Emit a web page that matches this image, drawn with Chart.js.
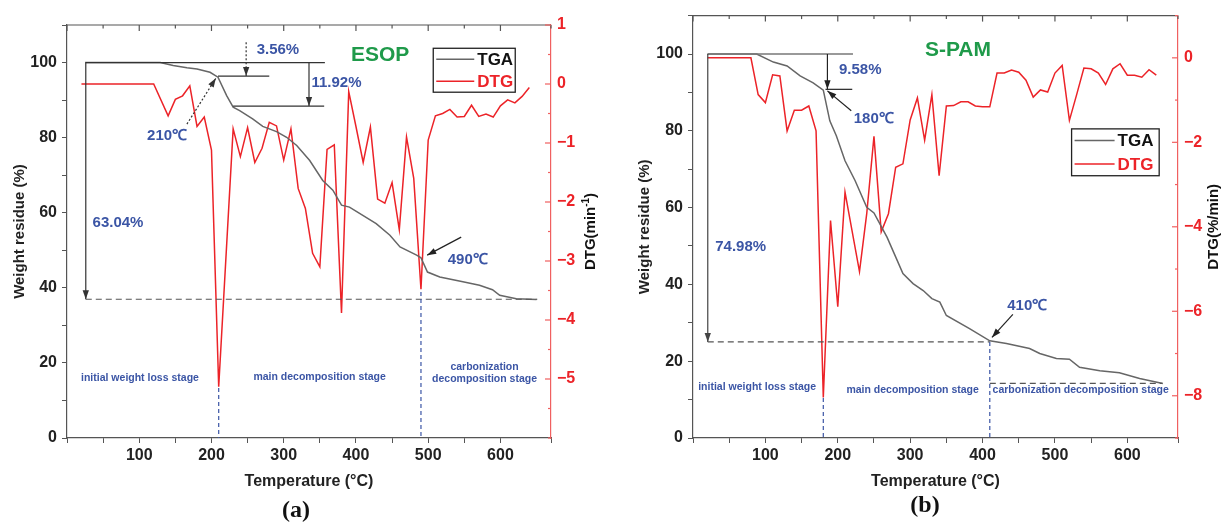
<!DOCTYPE html>
<html>
<head>
<meta charset="utf-8">
<script src="https://cdn.jsdelivr.net/npm/chart.js@4.4.1/dist/chart.umd.min.js"></script>
<style>
  html, body { margin: 0; padding: 0; background: #fff; }
  #wrap { position: relative; width: 1221px; height: 523px; }
  .panel { position: absolute; top: 0; }
  #pa { left: 0; }
  #pb { left: 610px; }
</style>
</head>
<body>
<div id="wrap">
  <div class="panel" id="pa"><canvas id="chartA" width="610" height="523"></canvas></div>
  <div class="panel" id="pb"><canvas id="chartB" width="611" height="523"></canvas></div>
</div>
<script>
// ESOP (panel a)
const esopTgaTemp = [25, 129, 147, 166, 180, 198, 209, 221, 230, 239, 257, 271, 290, 304, 318, 336, 354, 368, 380, 391, 405, 428, 447, 461, 484, 490, 499, 516, 548, 571, 589, 599, 622, 650];
const esopTgaWeight = [100, 100, 99.2, 98.6, 98.3, 97.4, 96.1, 91.2, 88.1, 87.2, 85.0, 83.0, 81.6, 80.1, 77.9, 73.9, 68.6, 66.0, 62.0, 61.5, 59.8, 57.1, 54.0, 50.9, 48.7, 48.0, 44.2, 42.9, 41.6, 40.7, 39.5, 38.0, 37.1, 36.9];
const esopDtgTemp = [20, 120, 140, 150, 160, 170, 180, 190, 200, 210, 230, 240, 250, 260, 270, 280, 290, 300, 310, 320, 330, 340, 350, 360, 370, 380, 390, 400, 410, 420, 430, 440, 450, 460, 470, 480, 490, 500, 510, 520, 530, 540, 550, 560, 570, 580, 590, 600, 610, 620, 630, 640];
const esopDtgRate = [0, 0, -0.54, -0.26, -0.20, -0.03, -0.72, -0.56, -1.12, -5.13, -0.76, -1.23, -0.74, -1.33, -1.09, -0.65, -0.71, -1.29, -0.76, -1.77, -2.11, -2.87, -3.10, -1.11, -1.03, -3.88, -0.13, -0.72, -1.33, -0.73, -1.95, -2.02, -1.67, -2.47, -0.90, -1.60, -3.48, -0.95, -0.54, -0.50, -0.43, -0.56, -0.55, -0.36, -0.55, -0.51, -0.56, -0.37, -0.27, -0.32, -0.21, -0.06];

// S-PAM (panel b)
const spamTgaTemp = [20, 88, 111, 130, 148, 166, 180, 189, 198, 210, 224, 240, 250, 268, 281, 290, 304, 318, 330, 341, 350, 382, 410, 433, 465, 479, 502, 520, 534, 562, 589, 617, 649];
const spamTgaWeight = [100, 100, 97.9, 96.9, 94.3, 92.5, 90.6, 82.6, 78.7, 72.2, 67.0, 60.1, 58.6, 52.3, 46.7, 42.8, 40.2, 38.4, 36.3, 35.4, 31.9, 28.5, 25.3, 24.6, 23.3, 22.0, 20.7, 20.5, 18.4, 17.5, 17.0, 15.5, 14.2];
const spamDtgTemp = [20, 80, 90, 100, 110, 120, 130, 140, 150, 160, 170, 180, 190, 200, 210, 230, 240, 250, 260, 270, 280, 290, 300, 310, 320, 330, 340, 350, 360, 370, 380, 390, 400, 410, 420, 430, 440, 450, 460, 470, 480, 490, 500, 510, 520, 530, 540, 550, 560, 570, 580, 590, 600, 610, 620, 630, 640];
const spamDtgRate = [0, 0, -0.87, -1.06, -0.40, -0.43, -1.73, -1.24, -1.24, -1.14, -1.73, -8.04, -3.85, -5.89, -3.18, -5.06, -3.69, -1.86, -4.12, -3.69, -2.59, -2.51, -1.47, -0.95, -1.95, -0.87, -2.79, -1.14, -1.13, -1.04, -1.04, -1.14, -1.16, -1.16, -0.36, -0.36, -0.29, -0.34, -0.53, -0.93, -0.76, -0.81, -0.36, -0.18, -1.48, -0.87, -0.24, -0.26, -0.36, -0.63, -0.26, -0.14, -0.41, -0.41, -0.46, -0.28, -0.41];

const seriesLabels = ['TGA', 'DTG'];

const RED = '#ec2328';
const GRAY = '#666666';
const BLUE = '#3b55a5';
const GREEN = '#1f9a4a';
const SANS = '"Liberation Sans", Arial, sans-serif';

Chart.defaults.font.family = SANS;

function toPoints(xs, ys) {
  return xs.map((x, i) => ({ x: x, y: ys[i] }));
}

function minus(v) {
  return v < 0 ? '\u2212' + Math.abs(v) : String(v);
}

function line(ctx, x1, y1, x2, y2) {
  ctx.beginPath();
  ctx.moveTo(x1, y1);
  ctx.lineTo(x2, y2);
  ctx.stroke();
}

function arrowHead(ctx, x1, y1, x2, y2, size) {
  const ang = Math.atan2(y2 - y1, x2 - x1);
  const c = Math.cos(ang), s = Math.sin(ang);
  ctx.setLineDash([]);
  ctx.beginPath();
  ctx.moveTo(x2, y2);
  ctx.lineTo(x2 - size * c + size * 0.35 * s, y2 - size * s - size * 0.35 * c);
  ctx.lineTo(x2 - size * c - size * 0.35 * s, y2 - size * s + size * 0.35 * c);
  ctx.closePath();
  ctx.fill();
}

// frame, inward ticks, annotations, legend and panel letter
const decor = {
  id: 'decor',
  afterDraw(chart, args, o) {
    const { ctx, chartArea: a, scales } = chart;
    const xs = scales.x, ys = scales.y, yr = scales.y1;
    const X = v => xs.getPixelForValue(v);
    const Y = v => ys.getPixelForValue(v);
    ctx.save();

    // top frame with ticks pointing down
    ctx.strokeStyle = '#555';
    ctx.lineWidth = 1.2;
    line(ctx, a.left, a.top, a.right, a.top);
    xs.ticks.forEach(t => {
      const px = X(t.value);
      const len = t.value % 100 === 0 ? 6 : 3.5;
      line(ctx, px, a.top, px, a.top + len);
    });

    // right axis ticks pointing inward
    ctx.strokeStyle = '#f06060';
    yr.ticks.forEach(t => {
      const py = yr.getPixelForValue(t.value);
      const len = t.label !== '' ? 6 : 3;
      line(ctx, a.right - len, py, a.right, py);
    });

    // right axis title, read bottom to top
    ctx.save();
    ctx.translate(o.rightTitleX, (a.top + a.bottom) / 2);
    ctx.rotate(-Math.PI / 2);
    ctx.fillStyle = '#111';
    ctx.textBaseline = 'middle';
    const mainFont = 'bold 15px ' + SANS;
    const supFont = 'bold 10px ' + SANS;
    ctx.font = mainFont;
    const w1 = ctx.measureText(o.rightTitle[0]).width;
    const w3 = ctx.measureText(o.rightTitle[2]).width;
    ctx.font = supFont;
    const w2 = o.rightTitle[1] ? ctx.measureText(o.rightTitle[1]).width : 0;
    let tx = -(w1 + w2 + w3) / 2;
    ctx.textAlign = 'left';
    ctx.font = mainFont;
    ctx.fillText(o.rightTitle[0], tx, 0);
    tx += w1;
    if (o.rightTitle[1]) {
      ctx.font = supFont;
      ctx.fillText(o.rightTitle[1], tx, -5);
      tx += w2;
    }
    ctx.font = mainFont;
    ctx.fillText(o.rightTitle[2], tx, 0);
    ctx.restore();

    // annotation lines and arrows
    o.lines.forEach(l => {
      const x1 = X(l.x1), y1 = Y(l.y1), x2 = X(l.x2), y2 = Y(l.y2);
      ctx.strokeStyle = l.color || '#333';
      ctx.fillStyle = l.color || '#333';
      ctx.lineWidth = l.width || 1.2;
      ctx.setLineDash(l.dash || []);
      line(ctx, x1, y1, x2, y2);
      if (l.arrow) arrowHead(ctx, x1, y1, x2, y2, 9);
    });
    ctx.setLineDash([]);

    // annotation texts
    ctx.textAlign = 'center';
    ctx.textBaseline = 'middle';
    o.texts.forEach(t => {
      ctx.font = 'bold ' + (t.size || 15) + 'px ' + SANS;
      ctx.fillStyle = t.color || BLUE;
      ctx.fillText(t.text, X(t.x), Y(t.y));
    });

    // legend box
    const lg = o.legend;
    const bl = X(lg.left), bt = Y(lg.top), br = X(lg.right), bb = Y(lg.bottom);
    ctx.strokeStyle = '#222';
    ctx.lineWidth = 1.3;
    ctx.strokeRect(bl, bt, br - bl, bb - bt);
    const rowH = (bb - bt) / chart.data.datasets.length;
    chart.data.datasets.forEach((ds, i) => {
      const cy = bt + rowH * (i + 0.5);
      ctx.strokeStyle = ds.borderColor;
      ctx.lineWidth = 1.5;
      line(ctx, bl + 3, cy, bl + 3 + lg.sample, cy);
      ctx.font = 'bold 17px ' + SANS;
      ctx.fillStyle = lg.textColors[i];
      ctx.textAlign = 'left';
      ctx.fillText(ds.label, bl + 6 + lg.sample, cy + 1);
    });

    // panel letter
    ctx.font = 'bold 24px "Liberation Serif", "Times New Roman", serif';
    ctx.fillStyle = '#111';
    ctx.textAlign = 'center';
    ctx.textBaseline = 'middle';
    ctx.fillText(o.letter[0], o.letter[1], o.letter[2]);

    ctx.restore();
  }
};

function makeChart(id, p) {
  return new Chart(document.getElementById(id), {
    type: 'line',
    data: {
      datasets: [
        { label: seriesLabels[0], data: toPoints(p.tgaT, p.tgaW), yAxisID: 'y',
          borderColor: GRAY, borderWidth: 1.5, pointRadius: 0, tension: 0 },
        { label: seriesLabels[1], data: toPoints(p.dtgT, p.dtgR), yAxisID: 'y1',
          borderColor: RED, borderWidth: 1.5, pointRadius: 0, tension: 0 }
      ]
    },
    options: {
      responsive: false,
      animation: false,
      layout: { padding: { top: p.top, bottom: 25, left: 0, right: 0 } },
      plugins: {
        legend: { display: false },
        tooltip: { enabled: false },
        decor: p.decor
      },
      scales: {
        x: {
          type: 'linear', min: 0, max: 670,
          ticks: {
            stepSize: 50, autoSkip: false, maxRotation: 0, padding: 3,
            color: '#222', font: { size: 16, weight: 'bold' },
            callback: v => (v > 0 && v % 100 === 0 ? v : '')
          },
          grid: { drawOnChartArea: false, tickLength: 5, color: '#555' },
          border: { color: '#555', width: 1.2 },
          title: { display: true, text: 'Temperature (\u00b0C)', color: '#222',
                   font: { size: 16, weight: 'bold' }, padding: { top: 0, bottom: 7 } },
          afterFit: s => { s.height = 60; }
        },
        y: {
          position: 'left', min: 0, max: 110,
          ticks: {
            stepSize: 10, autoSkip: false, padding: 5,
            color: '#222', font: { size: 16, weight: 'bold' },
            callback: v => (v % 20 === 0 && v <= 100 ? v : '')
          },
          grid: { drawOnChartArea: false, tickLength: 5, color: '#555' },
          border: { color: '#555', width: 1.2 },
          title: { display: true, text: 'Weight residue (%)', color: '#222',
                   font: { size: 15, weight: 'bold' }, padding: { top: p.leftTitlePad, bottom: 0 } },
          afterFit: s => { s.width = p.leftWidth; }
        },
        y1: {
          position: 'right', min: p.rMin, max: p.rMax,
          ticks: {
            stepSize: p.rStep, autoSkip: false, padding: 6,
            color: RED, font: { size: 16, weight: 'bold' },
            callback: v => (Number.isInteger(v) && v % p.rLabelEvery === 0 && v > p.rMin ? minus(v) : (v === p.rMax && p.rLabelTop ? minus(v) : ''))
          },
          grid: { drawOnChartArea: false, drawTicks: false },
          border: { color: '#f06060', width: 1.2 },
          afterFit: s => { s.width = p.rightWidth; }
        }
      }
    },
    plugins: [decor]
  });
}

makeChart('chartA', {
  tgaT: esopTgaTemp, tgaW: esopTgaWeight, dtgT: esopDtgTemp, dtgR: esopDtgRate,
  top: 25, leftWidth: 67, rightWidth: 59, leftTitlePad: 11,
  rMin: -6, rMax: 1, rStep: 0.5, rLabelEvery: 1, rLabelTop: true,
  decor: {
    rightTitleX: 591,
    rightTitle: ['DTG(min', '-1', ')'],
    letter: ['(a)', 296, 511],
    legend: { left: 507, top: 103.8, right: 620.5, bottom: 92.1, sample: 38, textColors: ['#111', RED] },
    lines: [
      { x1: 26, y1: 100, x2: 357, y2: 100, color: '#333' },
      { x1: 26, y1: 100, x2: 26, y2: 36.96, color: '#333', arrow: true },
      { x1: 26, y1: 36.96, x2: 651, y2: 36.96, color: '#555', dash: [6, 4] },
      { x1: 335, y1: 100, x2: 335, y2: 88.4, color: '#333', arrow: true },
      { x1: 230, y1: 88.4, x2: 356, y2: 88.4, color: '#333' },
      { x1: 209, y1: 96.4, x2: 280, y2: 96.4, color: '#333' },
      { x1: 248, y1: 105.4, x2: 248, y2: 96.4, color: '#333', dash: [2, 2], arrow: true },
      { x1: 166, y1: 83.6, x2: 206, y2: 95.8, color: '#333', dash: [2, 2], arrow: true },
      { x1: 545.7, y1: 53.5, x2: 498.6, y2: 48.7, color: '#222', arrow: true },
      { x1: 210, y1: 13.3, x2: 210, y2: 0, color: BLUE, dash: [4, 3] },
      { x1: 490, y1: 38.9, x2: 490, y2: 0, color: BLUE, dash: [4, 3] }
    ],
    texts: [
      { text: '210\u2103', x: 138.5, y: 80.4 },
      { text: '3.56%', x: 292, y: 103.3 },
      { text: '11.92%', x: 373, y: 94.5 },
      { text: '63.04%', x: 70.6, y: 57.2 },
      { text: '490\u2103', x: 554.7, y: 47.4 },
      { text: 'ESOP', x: 433.5, y: 101.9, size: 21, color: GREEN },
      { text: 'initial weight loss stage', x: 101, y: 16.05, size: 10.5 },
      { text: 'main decomposition stage', x: 349.7, y: 16.1, size: 10.5 },
      { text: 'carbonization', x: 578, y: 19.0, size: 10.5 },
      { text: 'decomposition stage', x: 578, y: 15.7, size: 10.5 }
    ]
  }
});

makeChart('chartB', {
  tgaT: spamTgaTemp, tgaW: spamTgaWeight, dtgT: spamDtgTemp, dtgR: spamDtgRate,
  top: 14, leftWidth: 83, rightWidth: 43, leftTitlePad: 26,
  rMin: -9, rMax: 1, rStep: 1, rLabelEvery: 2, rLabelTop: false,
  decor: {
    rightTitleX: 604,
    rightTitle: ['DTG(%/min', '', ')'],
    letter: ['(b)', 315, 506],
    legend: { left: 523, top: 80.5, right: 644, bottom: 68.3, sample: 40, textColors: ['#111', RED] },
    lines: [
      { x1: 20.4, y1: 100, x2: 221, y2: 100, color: '#777', width: 1.5 },
      { x1: 20.4, y1: 100, x2: 20.4, y2: 25.02, color: '#444', arrow: true },
      { x1: 20.4, y1: 25.02, x2: 410, y2: 25.02, color: '#555', dash: [6, 4] },
      { x1: 185.7, y1: 100, x2: 185.7, y2: 90.8, color: '#222', arrow: true },
      { x1: 183, y1: 90.8, x2: 220, y2: 90.8, color: '#222' },
      { x1: 218.6, y1: 85.2, x2: 185.7, y2: 90.4, color: '#222', arrow: true },
      { x1: 441.9, y1: 32.2, x2: 413, y2: 26.2, color: '#222', arrow: true },
      { x1: 180, y1: 10.4, x2: 180, y2: 0, color: BLUE, dash: [4, 3] },
      { x1: 410, y1: 25, x2: 410, y2: 0, color: BLUE, dash: [4, 3] },
      { x1: 410, y1: 14.2, x2: 648.5, y2: 14.2, color: '#555', dash: [6, 4] }
    ],
    texts: [
      { text: '9.58%', x: 231, y: 96 },
      { text: '180\u2103', x: 249.7, y: 83 },
      { text: '74.98%', x: 65.8, y: 49.7 },
      { text: 'S-PAM', x: 366, y: 101, size: 21, color: GREEN },
      { text: '410\u2103', x: 461.8, y: 34.5 },
      { text: 'initial weight loss stage', x: 88.6, y: 13.2, size: 10.5 },
      { text: 'main decomposition stage', x: 303.4, y: 12.6, size: 10.5 },
      { text: 'carbonization decomposition stage', x: 535.5, y: 12.6, size: 10.5 }
    ]
  }
});
</script>
</body>
</html>
